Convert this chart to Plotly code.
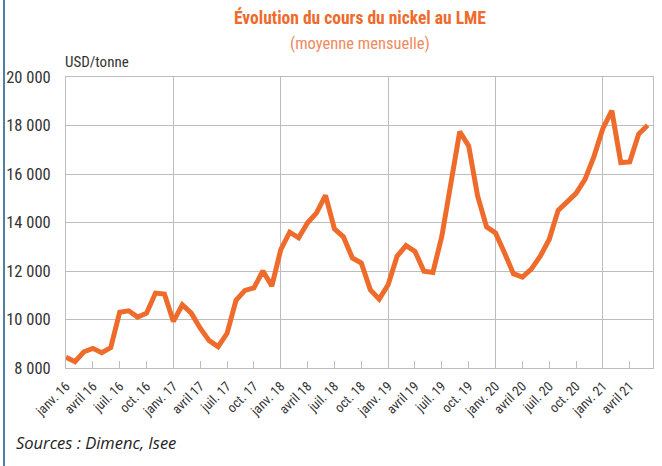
import plotly.graph_objects as go

# Monthly average nickel price on LME (USD/tonne), Jan 2016 - Jun 2021
months = list(range(66))
prices = [
    8440, 8260, 8670, 8810, 8630, 8840, 10300, 10360, 10100, 10260, 11090, 11050,
    9920, 10610, 10260, 9640, 9130, 8880, 9430, 10790, 11200, 11300, 12000, 11380,
    12880, 13600, 13370, 13990, 14400, 15120, 13740, 13410, 12540, 12330, 11230, 10840,
    11430, 12610, 13050, 12810, 11990, 11940, 13430, 15700, 17750, 17160, 15100, 13820,
    13570, 12750, 11890, 11750, 12080, 12610, 13300, 14500, 14880, 15200, 15780, 16720,
    17880, 18610, 16470, 16500, 17650, 18010,
]

tick_positions = list(range(0, 64, 3))
tick_labels = []
for yr in ["16", "17", "18", "19", "20", "21"]:
    for m in ["janv.", "avril", "juil.", "oct."]:
        tick_labels.append(f"{m} {yr}")
tick_labels = tick_labels[:len(tick_positions)]

year_starts = [0, 12, 24, 36, 48, 60]

y_ticks = [8000, 10000, 12000, 14000, 16000, 18000, 20000]
y_tick_labels = ["8 000", "10 000", "12 000", "14 000", "16 000", "18 000", "20 000"]

ORANGE = "#EE6B2B"
GRID = "#BDBDBD"
TEXT = "#333333"
NARROW = "Roboto Condensed, Roboto, sans-serif"

fig = go.Figure()
fig.add_trace(go.Scatter(
    x=months, y=prices, mode="lines",
    line=dict(color=ORANGE, width=5, shape="linear"),
    hoverinfo="skip", showlegend=False,
))
fig.add_trace(go.Scatter(
    x=[0], y=[8000], xaxis="x2", mode="markers",
    marker=dict(opacity=0), hoverinfo="skip", showlegend=False,
))

fig.update_layout(
    width=662, height=466,
    margin=dict(l=66, r=9, t=77, b=98),
    paper_bgcolor="white", plot_bgcolor="white",
    xaxis=dict(
        range=[0, 65.6], tickmode="array", tickvals=tick_positions, ticktext=tick_labels,
        tickangle=-45, ticks="inside", ticklen=7, tickcolor=GRID, tickwidth=1,
        showgrid=False, zeroline=False, automargin=False, ticklabelstandoff=4,
        showline=True, linecolor=GRID, linewidth=1, mirror=True,
        tickfont=dict(family=NARROW, size=13.5, color=TEXT),
    ),
    xaxis2=dict(
        range=[0, 65.6], overlaying="x", tickmode="array", tickvals=year_starts,
        showticklabels=False, ticks="", showgrid=True, gridcolor=GRID, gridwidth=1,
        zeroline=False, showline=False, automargin=False,
    ),
    yaxis=dict(
        range=[8000, 20000], tickmode="array", tickvals=y_ticks, ticktext=y_tick_labels,
        showgrid=True, gridcolor=GRID, gridwidth=1, zeroline=False, automargin=False,
        showline=True, linecolor=GRID, linewidth=1, mirror=True,
        ticks="", ticklabelstandoff=11,
        tickfont=dict(family=NARROW, size=16.5, color=TEXT),
    ),
    annotations=[
        dict(text="<b>Évolution du cours du nickel au LME</b>", xref="paper", yref="paper",
             x=0.5, y=1.0, yshift=60, xanchor="center", yanchor="middle", showarrow=False,
             font=dict(family=NARROW, size=17.5, color=ORANGE)),
        dict(text="(moyenne mensuelle)", xref="paper", yref="paper",
             x=0.5, y=1.0, yshift=34, xanchor="center", yanchor="middle", showarrow=False,
             font=dict(family=NARROW, size=16.5, color="#F08A5D")),
        dict(text="USD/tonne", xref="paper", yref="paper",
             x=0.0, y=1.0, xshift=-3, yshift=15, xanchor="left", yanchor="middle", showarrow=False,
             font=dict(family=NARROW, size=15, color=TEXT)),
        dict(text="<i>Sources : Dimenc, Isee</i>", xref="paper", yref="paper",
             x=0.0, y=0.0, xshift=-52, yshift=-74, xanchor="left", yanchor="middle", showarrow=False,
             font=dict(family="Open Sans, sans-serif", size=16.5, color="#222222")),
    ],
    shapes=[
        dict(type="line", xref="paper", yref="paper", x0=-0.1056, x1=-0.1056, y0=-0.5, y1=1.5,
             line=dict(color="#4F7FA6", width=2)),
    ],
)

fig.write_html("out.html", config={"displayModeBar": False},
               post_script="document.body.style.margin='0';")
